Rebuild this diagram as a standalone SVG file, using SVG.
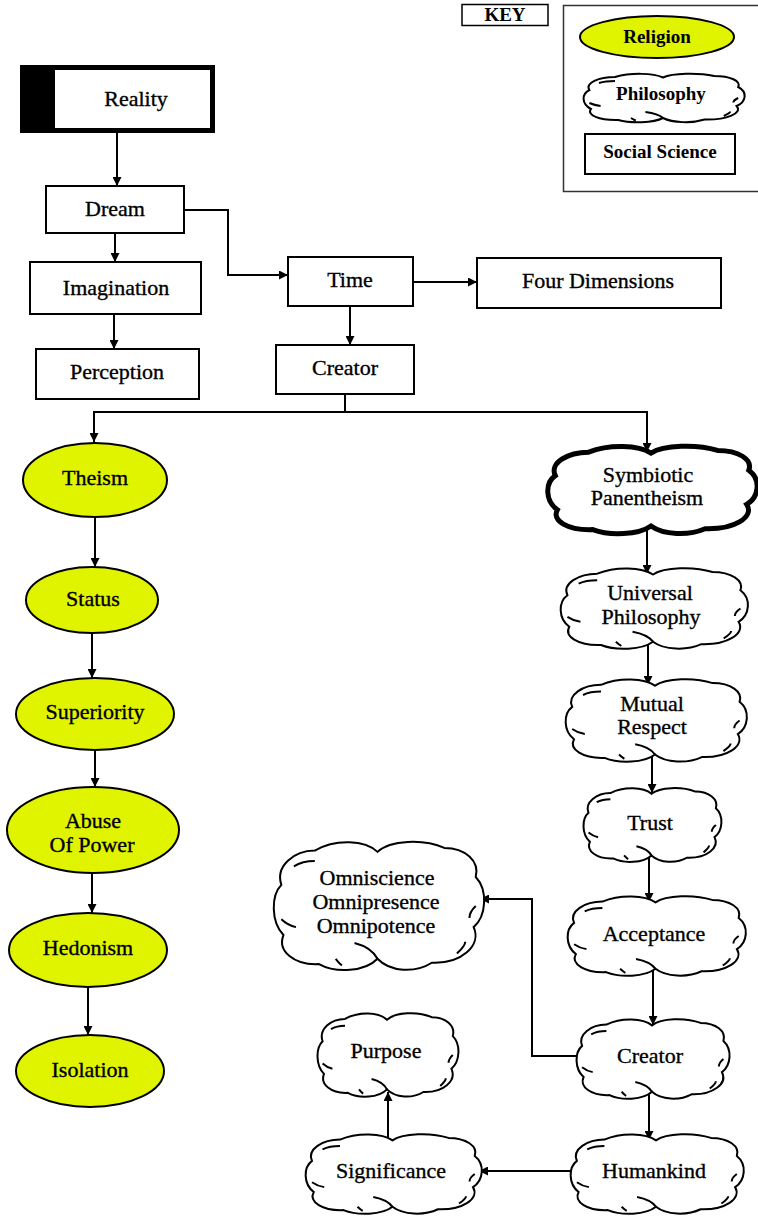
<svg xmlns="http://www.w3.org/2000/svg" xmlns:xlink="http://www.w3.org/1999/xlink" width="758" height="1216" viewBox="0 0 758 1216">
<style>
text{font-family:"Liberation Serif","Times New Roman",serif;font-size:22px;fill:#000;stroke:#000;stroke-width:0.35;text-anchor:middle}
.key{font-weight:bold;font-size:19px;stroke-width:0}
.box{fill:#fff;stroke:#000;stroke-width:2}
.rel{fill:#e0f400;stroke:#000;stroke-width:2}
.cloud{fill:#fff;stroke:#000;stroke-width:2}
.thick{stroke-width:5}
.conn path{fill:none;stroke:#000;stroke-width:2;marker-end:url(#ah)}
</style>
<defs>
<marker id="ah" viewBox="0 0 10 10" markerWidth="11" markerHeight="9" markerUnits="userSpaceOnUse" refX="10" refY="5" orient="auto">
<path d="M0,0 L10,5 L0,10 Z" fill="#000"/>
</marker>
<path id="cloudShape" vector-effect="non-scaling-stroke" d="M50,9 C56,0 72,-1 82,6 C92,6 99,16 97,28 C103,38 102,58 96,66 C100,80 90,94 76,93 C68,101 56,100 50,90 C44,100 30,101 22,94 C10,95 2,84 5,72 C-1,62 -1,42 4,34 C1,20 10,8 20,8 C30,-1 44,0 50,9 Z"/>
<path id="cloudTicks" fill="none" vector-effect="non-scaling-stroke" d="M50,90 C48,84 44,80 39,78 M10,20 C13,17 16,16 20,16 M4,60 C6,63 8,65 11,66 M88,86 C90,83 92,80 92,77 M97,50 C95,53 94,56 94,59 M30,90 C31,92 32,94 33,95"/>
</defs>
<rect width="758" height="1216" fill="#fff"/>

<g id="key">
<rect x="462" y="4.5" width="86" height="21" fill="#fff" stroke="#000" stroke-width="1.5"/>
<text class="key" x="505" y="21" font-size="17">KEY</text>
<rect x="563.5" y="5.5" width="200" height="186" fill="#fff" stroke="#333" stroke-width="1.5"/>
<ellipse class="rel" cx="657" cy="37" rx="77" ry="21"/>
<text class="key" x="657" y="43">Religion</text>
<g class="cloud" transform="translate(583,73) scale(1.6,0.5)"><use href="#cloudShape"/><use href="#cloudTicks"/></g>
<text class="key" x="661" y="100">Philosophy</text>
<rect class="box" x="585" y="134" width="150" height="40"/>
<text class="key" x="660" y="158">Social Science</text>
</g>

<g class="conn" id="connectors">
<path d="M117,133 V186"/>
<path d="M184,210 H228 V275 H288"/>
<path d="M115,233 V262"/>
<path d="M114,314 V349"/>
<path d="M350,306 V345"/>
<path d="M413,282 H477"/>
<path d="M345,394 V412 H94 V442"/>
<path d="M345,412 H647 V452"/>
<path d="M95,518 V567"/>
<path d="M92,633 V678"/>
<path d="M95,750 V787"/>
<path d="M92,873 V913"/>
<path d="M88,987 V1035"/>
<path d="M647,526 V574"/>
<path d="M648,645 V685"/>
<path d="M652,755 V793"/>
<path d="M649,856 V902"/>
<path d="M653,969 V1025"/>
<path d="M649,1092 V1140"/>
<path d="M580,1056 H532 V899 H480"/>
<path d="M575,1171 H479"/>
<path d="M388,1138 V1092"/>
</g>

<g id="reality">
<rect x="20" y="65" width="195" height="68" fill="#000"/>
<rect x="55" y="70" width="155" height="58" fill="#fff"/>
<text x="136" y="106">Reality</text>
</g>
<g id="dream"><rect class="box" x="46" y="186" width="138" height="47"/><text x="115" y="216">Dream</text></g>
<g id="imagination"><rect class="box" x="30" y="262" width="171" height="52"/><text x="116" y="295">Imagination</text></g>
<g id="perception"><rect class="box" x="36" y="349" width="163" height="50"/><text x="117" y="379">Perception</text></g>
<g id="time"><rect class="box" x="288" y="257" width="125" height="49"/><text x="350" y="287">Time</text></g>
<g id="creator-box"><rect class="box" x="276" y="345" width="138" height="49"/><text x="345" y="375">Creator</text></g>
<g id="four-dimensions"><rect class="box" x="477" y="258" width="244" height="50"/><text x="598" y="288">Four Dimensions</text></g>

<g id="theism"><ellipse class="rel" cx="95" cy="480" rx="72" ry="37" stroke-width="4"/><text x="95" y="485">Theism</text></g>
<g id="status"><ellipse class="rel" cx="92" cy="600" rx="66" ry="33"/><text x="93" y="606">Status</text></g>
<g id="superiority"><ellipse class="rel" cx="95" cy="714" rx="79" ry="36"/><text x="95" y="719">Superiority</text></g>
<g id="abuse-of-power"><ellipse class="rel" cx="93" cy="830" rx="86" ry="43"/><text x="93" y="828">Abuse</text><text x="92" y="852">Of Power</text></g>
<g id="hedonism"><ellipse class="rel" cx="88" cy="950" rx="79" ry="37"/><text x="88" y="955">Hedonism</text></g>
<g id="isolation"><ellipse class="rel" cx="90" cy="1071" rx="74" ry="36"/><text x="90" y="1077">Isolation</text></g>

<g id="symbiotic-panentheism">
<g class="cloud thick" transform="translate(547,445) scale(2.08,0.9)"><use href="#cloudShape"/></g>
<text x="648" y="482">Symbiotic</text><text x="647" y="505">Panentheism</text>
</g>
<g id="universal-philosophy">
<g class="cloud" transform="translate(560,567) scale(1.86,0.83)"><use href="#cloudShape"/><use href="#cloudTicks"/></g>
<text x="650" y="600">Universal</text><text x="651" y="624">Philosophy</text>
</g>
<g id="mutual-respect">
<g class="cloud" transform="translate(565,678) scale(1.8,0.85)"><use href="#cloudShape"/><use href="#cloudTicks"/></g>
<text x="652" y="711">Mutual</text><text x="652" y="734">Respect</text>
</g>
<g id="trust">
<g class="cloud" transform="translate(583,787) scale(1.37,0.76)"><use href="#cloudShape"/><use href="#cloudTicks"/></g>
<text x="650" y="830">Trust</text>
</g>
<g id="omni">
<g class="cloud" transform="translate(273,840) scale(2.09,1.32)"><use href="#cloudShape"/><use href="#cloudTicks"/></g>
<text x="377" y="885">Omniscience</text><text x="376" y="909">Omnipresence</text><text x="376" y="933">Omnipotence</text>
</g>
<g id="acceptance">
<g class="cloud" transform="translate(567,895) scale(1.77,0.82)"><use href="#cloudShape"/><use href="#cloudTicks"/></g>
<text x="654" y="941">Acceptance</text>
</g>
<g id="creator-cloud">
<g class="cloud" transform="translate(576,1018) scale(1.52,0.82)"><use href="#cloudShape"/><use href="#cloudTicks"/></g>
<text x="650" y="1063">Creator</text>
</g>
<g id="purpose">
<g class="cloud" transform="translate(317,1012) scale(1.4,0.86)"><use href="#cloudShape"/><use href="#cloudTicks"/></g>
<text x="386" y="1058">Purpose</text>
</g>
<g id="significance">
<g class="cloud" transform="translate(305,1133) scale(1.75,0.82)"><use href="#cloudShape"/><use href="#cloudTicks"/></g>
<text x="391" y="1178">Significance</text>
</g>
<g id="humankind">
<g class="cloud" transform="translate(570,1133) scale(1.72,0.82)"><use href="#cloudShape"/><use href="#cloudTicks"/></g>
<text x="654" y="1178">Humankind</text>
</g>
</svg>
